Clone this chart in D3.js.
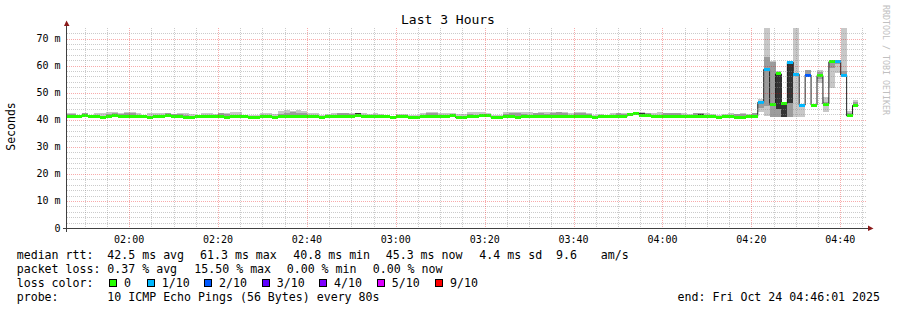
<!DOCTYPE html>
<html>
<head>
<meta charset="utf-8">
<script src="https://cdn.jsdelivr.net/npm/d3@7"></script>
<style>
  body { margin: 0; background: #fff; }
  svg { display: block; }
  text { font-family: "DejaVu Sans Mono", monospace; fill: #000; }
</style>
</head>
<body>
<div id="chart"></div>
<script>
const WIDTH = 897;
const HEIGHT = 310;
// plot area (rrdtool canvas)
const PLOT = {'left': 67, 'top': 28, 'width': 800, 'height': 200};

const START = Date.UTC(2025, 9, 24, 1, 46, 1);
const END = Date.UTC(2025, 9, 24, 4, 46, 1);
const FIRST_STEP = Date.UTC(2025, 9, 24, 1, 45, 26);
const STEP_MS = 80 * 1000;
const Y_MAX = 73.88;

const yTicks = [0, 10, 20, 30, 40, 50, 60, 70];
const yTickLabels = ["0", "10 m", "20 m", "30 m", "40 m", "50 m", "60 m", "70 m"];

// median rtt per 80s step (ms)
const median = [
  41.2,41.2,41.1,41.5,41.1,41.1,40.8,41.1,41.6,41.2,
  41.1,41.2,41.1,41.1,40.8,41.1,41.2,41.4,41.2,41.1,
  40.8,40.8,41.2,41.2,41.1,41.1,41.1,41.0,41.1,41.2,
  41.1,40.8,40.8,41.1,41.1,40.8,41.1,41.2,41.1,41.1,
  41.2,41.1,41.1,40.8,41.1,41.1,41.2,41.2,41.3,41.5,
  41.2,41.1,41.1,41.2,41.1,40.8,41.1,41.1,40.8,40.8,
  41.1,41.2,41.1,41.1,41.2,41.5,40.8,40.8,41.1,41.2,
  41.4,41.4,40.8,40.8,41.1,41.1,40.8,41.1,41.2,41.1,
  41.1,41.2,41.1,41.2,41.1,41.1,41.2,41.1,41.1,40.8,
  41.1,41.1,41.2,41.1,41.3,41.8,42.3,41.6,41.5,41.2,
  41.1,41.2,41.3,41.2,41.1,41.2,41.3,41.2,41.1,41.1,
  40.8,41.1,41.1,40.8,40.8,41.2,41.3,46.4,58.6,45.7,
  56.9,46.0,61.2,56.8,45.4,56.5,45.4,56.3,45.8,61.4,
  61.4,56.5,41.4,45.3
];

// loss level per step, index into lossColors
const lossLevel = [
  0,0,0,0,0,0,0,0,0,0, 0,0,0,0,0,0,0,0,0,0,
  0,0,0,0,0,0,0,0,0,0, 0,0,0,0,0,0,0,0,0,0,
  0,0,0,0,0,0,0,0,0,0, 0,0,0,0,0,0,0,0,0,0,
  0,0,0,0,0,0,0,0,0,0, 0,0,0,0,0,0,0,0,0,0,
  0,0,0,0,0,0,0,0,0,0, 0,0,0,0,0,0,0,0,0,0,
  0,0,0,0,0,0,0,0,0,0, 0,0,0,0,0,0,0,1,1,0,
  0,0,1,1,1,2,0,0,0,0, 1,1,0,0
];

// smoke: outer band (lightest)
const smokeLo = [
  40.9,40.9,40.8,41.2,40.8,40.8,40.5,40.8,41.3,40.9,
  40.8,40.9,40.8,40.8,40.5,40.8,40.9,41.1,40.9,40.8,
  40.5,40.5,40.9,40.9,40.8,40.8,40.8,40.7,40.8,40.9,
  40.8,40.5,40.5,40.8,40.8,40.5,40.8,40.9,40.8,40.8,
  40.9,40.8,40.8,40.5,40.8,40.8,40.9,40.9,41.0,41.2,
  40.9,40.8,40.8,40.9,40.8,40.5,40.8,40.8,40.5,40.5,
  40.8,40.9,40.8,40.8,40.9,41.2,40.5,40.5,40.8,40.9,
  41.1,41.1,40.5,40.5,40.8,40.8,40.5,40.8,40.9,40.8,
  40.8,40.9,40.8,40.9,40.8,40.8,40.9,40.8,40.8,40.5,
  40.8,40.8,40.9,40.8,41.0,41.5,41.6,41.3,41.2,40.9,
  40.8,40.9,41.0,40.9,40.8,40.9,41.0,40.9,40.8,40.8,
  40.5,40.8,40.8,40.5,40.5,40.9,41.0,43.0,41.5,41.1,
  41.1,41.1,41.1,41.1,41.1,56.0,44.8,53.5,42.7,51.6,
  57.1,56.5,41.1,45.3
];
const smokeHi = [
  42.6,42.4,41.9,42.4,41.8,42.6,42.5,42.8,42.8,42.6,
  42.8,42.7,42.4,41.9,42.5,42.6,42.4,42.5,42.2,42.3,
  42.3,42.1,41.9,42.5,42.4,42.2,42.5,42.5,43.0,42.9,
  41.9,41.6,41.8,42.6,42.5,42.0,43.2,43.5,43.4,43.5,
  43.4,42.4,42.3,41.7,42.1,42.3,42.6,42.5,42.4,42.6,
  42.3,42.2,42.3,42.0,41.8,41.5,42.0,42.0,41.6,41.7,
  42.4,42.8,42.8,42.5,42.3,42.4,42.2,42.0,42.8,42.8,
  42.8,42.6,41.9,41.7,43.0,42.9,42.7,43.0,42.8,42.6,
  42.8,42.8,43.0,42.9,42.8,42.6,42.8,42.9,42.6,41.8,
  42.0,41.9,42.3,42.5,42.4,42.6,42.9,42.8,42.6,42.5,
  42.8,42.6,42.5,42.6,42.4,42.0,42.6,42.5,42.3,42.0,
  41.8,42.1,42.4,42.2,42.3,42.0,42.5,47.5,73.9,61.6,
  58.0,46.5,61.6,73.9,45.6,58.5,45.8,58.4,48.5,62.1,
  62.1,73.9,43.2,47.3
];
// smoke: middle band
const midLo = [
  40.9,40.9,40.8,41.2,40.8,40.8,40.5,40.8,41.3,40.9,
  40.8,40.9,40.8,40.8,40.5,40.8,40.9,41.1,40.9,40.8,
  40.5,40.5,40.9,40.9,40.8,40.8,40.8,40.7,40.8,40.9,
  40.8,40.5,40.5,40.8,40.8,40.5,40.8,40.9,40.8,40.8,
  40.9,40.8,40.8,40.5,40.8,40.8,40.9,40.9,41.0,41.2,
  40.9,40.8,40.8,40.9,40.8,40.5,40.8,40.8,40.5,40.5,
  40.8,40.9,40.8,40.8,40.9,41.2,40.5,40.5,40.8,40.9,
  41.1,41.1,40.5,40.5,40.8,40.8,40.5,40.8,40.9,40.8,
  40.8,40.9,40.8,40.9,40.8,40.8,40.9,40.8,40.8,40.5,
  40.8,40.8,40.9,40.8,41.0,41.5,41.6,41.3,41.2,40.9,
  40.8,40.9,41.0,40.9,40.8,40.9,41.0,40.9,40.8,40.8,
  40.5,40.8,40.8,40.5,40.5,40.9,41.0,44.5,45.0,41.1,
  41.1,41.1,41.1,41.1,41.1,56.5,45.0,55.0,45.0,59.0,
  60.5,56.5,41.2,45.3
];
const midHi = [
  42.1,42.2,41.6,42.3,41.5,41.6,41.3,42.2,42.5,42.0,
  42.5,42.4,41.8,41.6,41.4,41.7,41.8,42.4,42.0,42.1,
  41.9,41.5,41.6,41.7,41.6,41.7,42.3,42.2,41.7,41.6,
  41.5,41.2,41.3,41.8,41.7,41.5,42.2,42.4,42.8,42.6,
  42.4,41.8,41.7,41.3,41.6,41.8,42.4,42.3,42.2,42.4,
  41.8,41.7,41.7,41.5,41.5,41.2,41.5,41.6,41.2,41.2,
  41.8,42.5,42.6,41.9,41.7,42.0,41.5,41.4,42.0,41.9,
  42.1,42.0,41.4,41.3,42.2,42.6,42.4,42.0,41.8,42.4,
  42.5,42.0,42.5,42.7,42.3,41.9,42.5,42.6,42.0,41.4,
  41.6,41.5,41.8,42.3,42.0,42.4,42.7,42.6,42.3,41.9,
  41.8,42.4,42.4,42.3,41.8,41.6,42.4,42.4,41.8,41.6,
  41.3,41.6,41.8,42.0,42.1,41.7,42.3,46.8,63.3,61.4,
  57.5,46.2,61.5,41.1,41.1,58.4,45.4,57.8,46.5,62.0,
  61.8,58.0,42.5,46.5
];
// smoke: dark core [step, lo, hi]
const smokeCore = [
  [3, 41.9, 42.2], [8, 41.8, 42.2], [17, 41.9, 42.2], [49, 41.9, 42.3],
  [96, 42.0, 42.6], [97, 41.9, 42.4], [98, 41.8, 42.2], [107, 41.9, 42.2],
  [120, 44.0, 56.9], [121, 41.1, 45.8], [122, 46.0, 61.2]
];

const lossNames = ["0", "1/10", "2/10", "3/10", "4/10", "5/10", "9/10"];
const lossColors = ["#26ff00", "#00b8ff", "#0059ff", "#5e00ff", "#7e00ff", "#dd00ff", "#ff0000"];

const rttStats = ["42.5 ms avg", "61.3 ms max", "40.8 ms min", "45.3 ms now", "4.4 ms sd", "9.6", "am/s"];
const lossStats = ["0.37 % avg", "15.50 % max", "0.00 % min", "0.00 % now"];
const probeText = "10 ICMP Echo Pings (56 Bytes) every 80s";
const endText = "end: Fri Oct 24 04:46:01 2025";

// legend layout
const RTT_X = [107.3, 200, 293.3, 385.7, 479.3, 556, 600.7];
const LOSS_X = [107.3, 194.3, 286.7, 372.7];
const BOX_X = [109, 146.7, 204, 261.7, 319, 376.7, 435];
const LINE_Y = [258.5, 272.5, 286.5, 300.5];

window.onload = function() {

  var svg = d3.select("#chart").append("svg")
              .attr("width", WIDTH)
              .attr("height", HEIGHT);

  svg.append("rect").attr("width", WIDTH).attr("height", HEIGHT).attr("fill", "#fff");

  svg.append("clipPath").attr("id", "plot")
     .append("rect")
     .attr("x", PLOT.left).attr("y", PLOT.top)
     .attr("width", PLOT.width).attr("height", PLOT.height);

  var x = d3.scaleUtc().domain([START, END]).range([PLOT.left, PLOT.left + PLOT.width]);
  var y = d3.scaleLinear().domain([0, Y_MAX]).range([PLOT.top + PLOT.height, PLOT.top]);

  var stepX = function(i) { return x(FIRST_STEP + i * STEP_MS); };

  var data = svg.append("g").attr("clip-path", "url(#plot)");

  // smoke
  var smoke = data.append("g").attr("shape-rendering", "crispEdges");
  smoke.selectAll("rect.outer")
       .data(median)
       .join("rect")
       .attr("class", "outer")
       .attr("x", (d, i) => stepX(i))
       .attr("width", (d, i) => stepX(i + 1) - stepX(i))
       .attr("y", (d, i) => y(smokeHi[i]))
       .attr("height", (d, i) => y(smokeLo[i]) - y(smokeHi[i]))
       .attr("fill", "#c8c8c8");
  smoke.selectAll("rect.mid")
       .data(median)
       .join("rect")
       .attr("class", "mid")
       .attr("x", (d, i) => stepX(i))
       .attr("width", (d, i) => stepX(i + 1) - stepX(i))
       .attr("y", (d, i) => y(midHi[i]))
       .attr("height", (d, i) => Math.max(0, y(midLo[i]) - y(midHi[i])))
       .attr("fill", "#9c9c9c");
  smoke.selectAll("rect.core")
       .data(smokeCore)
       .join("rect")
       .attr("class", "core")
       .attr("x", d => stepX(d[0]))
       .attr("width", d => stepX(d[0] + 1) - stepX(d[0]))
       .attr("y", d => y(d[2]))
       .attr("height", d => y(d[1]) - y(d[2]))
       .attr("fill", "#333");

  // median line
  var pts = median.map((m, i) => [stepX(i), y(m)]);
  pts.push([stepX(median.length), y(median[median.length - 1])]);
  data.append("path")
      .attr("d", d3.line().curve(d3.curveStepAfter)(pts))
      .attr("fill", "none")
      .attr("stroke", "#202020")
      .attr("stroke-width", 1);

  // loss coloured median blocks
  data.append("g").attr("shape-rendering", "crispEdges")
      .selectAll("rect")
      .data(median)
      .join("rect")
      .attr("x", (d, i) => stepX(i))
      .attr("width", (d, i) => stepX(i + 1) - stepX(i))
      .attr("y", d => y(d) - 1.5)
      .attr("height", 3)
      .attr("fill", (d, i) => lossColors[lossLevel[i]]);

  // grid
  var grid = svg.append("g").attr("shape-rendering", "crispEdges");
  var minorT = d3.utcMinute.every(5).range(START, END);
  var majorT = d3.utcMinute.every(20).range(START, END);
  var isMajor = t => t.getUTCMinutes() % 20 === 0;
  var yMinor = y.ticks(37).filter(v => v > 0 && v % 10 !== 0);
  var yMajor = yTicks.filter(v => v > 0);

  grid.selectAll("line.vmin").data(minorT.filter(t => !isMajor(t))).join("line")
      .attr("x1", d => Math.round(x(d)) + 0.5).attr("x2", d => Math.round(x(d)) + 0.5)
      .attr("y1", PLOT.top).attr("y2", PLOT.top + PLOT.height)
      .attr("stroke", "rgba(140,140,140,0.45)").attr("stroke-dasharray", "1,1");
  grid.selectAll("line.hmin").data(yMinor).join("line")
      .attr("x1", PLOT.left).attr("x2", PLOT.left + PLOT.width)
      .attr("y1", d => Math.round(y(d)) + 0.5).attr("y2", d => Math.round(y(d)) + 0.5)
      .attr("stroke", "rgba(140,140,140,0.45)").attr("stroke-dasharray", "1,1");
  grid.selectAll("line.vmaj").data(majorT).join("line")
      .attr("x1", d => Math.round(x(d)) + 0.5).attr("x2", d => Math.round(x(d)) + 0.5)
      .attr("y1", PLOT.top).attr("y2", PLOT.top + PLOT.height)
      .attr("stroke", "rgba(235,0,0,0.33)").attr("stroke-dasharray", "1,1");
  grid.selectAll("line.hmaj").data(yMajor).join("line")
      .attr("x1", PLOT.left).attr("x2", PLOT.left + PLOT.width)
      .attr("y1", d => Math.round(y(d)) + 0.5).attr("y2", d => Math.round(y(d)) + 0.5)
      .attr("stroke", "rgba(235,0,0,0.33)").attr("stroke-dasharray", "1,1");

  // axes
  var axis = svg.append("g").attr("shape-rendering", "crispEdges");
  axis.append("line")
      .attr("x1", PLOT.left - 0.5).attr("x2", PLOT.left - 0.5)
      .attr("y1", PLOT.top + PLOT.height + 4).attr("y2", PLOT.top - 4)
      .attr("stroke", "#404040");
  axis.append("line")
      .attr("x1", PLOT.left - 4).attr("x2", PLOT.left + PLOT.width + 4)
      .attr("y1", PLOT.top + PLOT.height + 0.5).attr("y2", PLOT.top + PLOT.height + 0.5)
      .attr("stroke", "#404040");
  svg.append("path")
     .attr("d", "M64,26L69.5,26L66.5,20.5Z")
     .attr("fill", "#8b1a1a");
  svg.append("path")
     .attr("d", "M868,225.5L868,231L873.5,228.5Z")
     .attr("fill", "#8b1a1a");

  // tick labels
  svg.selectAll("text.ylab").data(yTicks).join("text")
     .attr("x", 60.5).attr("y", d => y(d) + 3.5)
     .attr("text-anchor", "end").attr("font-size", "10px")
     .text((d, i) => yTickLabels[i]);
  svg.selectAll("text.xlab").data(majorT).join("text")
     .attr("x", d => x(d)).attr("y", 242.5)
     .attr("text-anchor", "middle").attr("font-size", "10px")
     .text(d3.utcFormat("%H:%M"));

  svg.append("text")
     .attr("transform", "translate(14.5,126.5) rotate(-90)")
     .attr("text-anchor", "middle").attr("font-size", "11.5px")
     .text("Seconds");

  svg.append("text")
     .attr("x", 448).attr("y", 24)
     .attr("text-anchor", "middle").attr("font-size", "13px")
     .text("Last 3 Hours");

  svg.append("text")
     .attr("transform", "translate(883,5) rotate(90)")
     .attr("font-size", "8.3px")
     .style("fill", "#c0c0c0")
     .text("RRDTOOL / TOBI OETIKER");

  // legend
  var legend = svg.append("g").attr("font-size", "11.6px");
  legend.append("text").attr("x", 16.7).attr("y", LINE_Y[0]).text("median rtt:");
  legend.selectAll("text.rtt").data(rttStats).join("text")
        .attr("x", (d, i) => RTT_X[i]).attr("y", LINE_Y[0]).text(d => d);
  legend.append("text").attr("x", 16.7).attr("y", LINE_Y[1]).text("packet loss:");
  legend.selectAll("text.loss").data(lossStats).join("text")
        .attr("x", (d, i) => LOSS_X[i]).attr("y", LINE_Y[1]).text(d => d);
  legend.append("text").attr("x", 16.7).attr("y", LINE_Y[2]).text("loss color:");
  legend.selectAll("rect.box").data(lossColors).join("rect")
        .attr("x", (d, i) => BOX_X[i] + 0.5).attr("y", 279.5)
        .attr("width", 7).attr("height", 7)
        .attr("fill", d => d).attr("stroke", "#000").attr("stroke-width", 1)
        .attr("shape-rendering", "crispEdges");
  legend.selectAll("text.lname").data(lossNames).join("text")
        .attr("x", (d, i) => BOX_X[i] + 15).attr("y", LINE_Y[2]).text(d => d);
  legend.append("text").attr("x", 16.7).attr("y", LINE_Y[3]).text("probe:");
  legend.append("text").attr("x", 107.3).attr("y", LINE_Y[3]).text(probeText);
  legend.append("text").attr("x", 880).attr("y", LINE_Y[3])
        .attr("text-anchor", "end").text(endText);
};
</script>
</body>
</html>
